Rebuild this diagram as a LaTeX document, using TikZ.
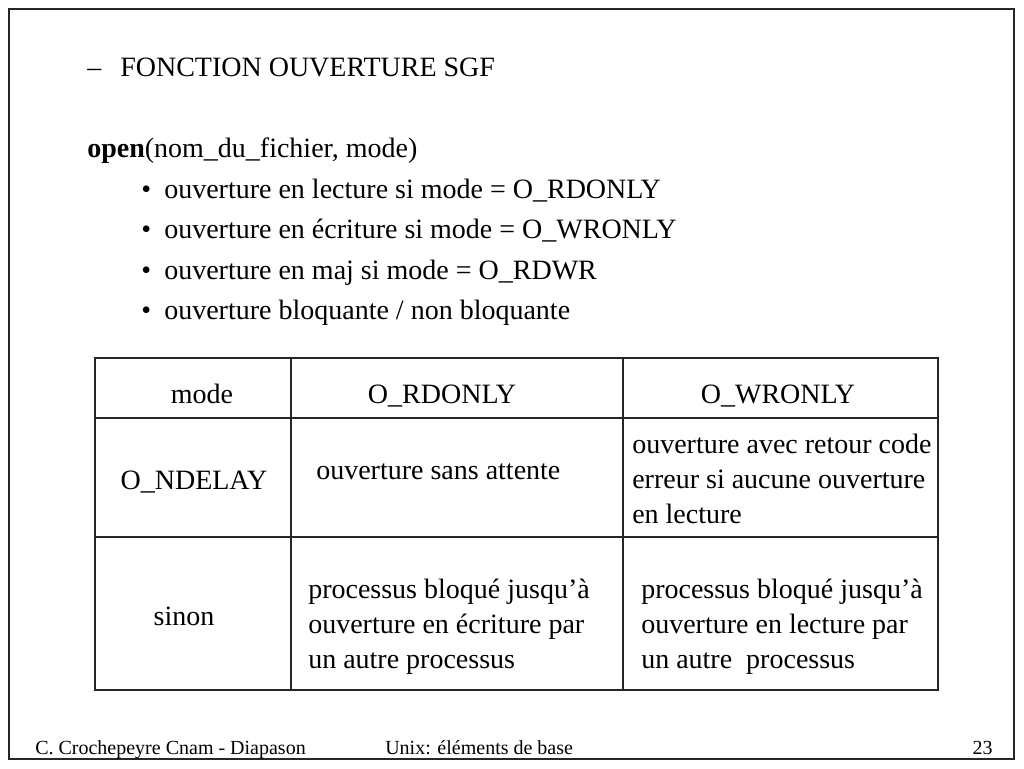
\documentclass[tikz,border=0pt]{standalone}
\usepackage{fontspec}
\setmainfont{Liberation Serif}
\begin{document}
\begin{tikzpicture}[x=0.75pt,y=-0.75pt,
  body/.style={font=\fontsize{21}{25.9}\selectfont, inner sep=0pt, anchor=base west},
  cell/.style={font=\fontsize{21}{25.9}\selectfont, inner sep=0pt, anchor=base west, align=left},
  foot/.style={font=\fontsize{15}{18}\selectfont, inner sep=0pt, anchor=base west},
  frame/.style={draw=black!85, line width=1pt},
  rule/.style={draw=black!85, line width=1.1pt}]
\useasboundingbox (0,0) rectangle (1024,768);
\fill[white] (0,0) rectangle (1024,768);
\draw[frame] (9,9) rectangle (1014,759);

% title and list
\node[body] (dash) at (87,76) {–};
\node[body] (title) at (120,76) {FONCTION OUVERTURE SGF};
\node[body] (open) at (87,157) {\textbf{open}(nom\_du\_fichier, mode)};
\node[body] (b1) at (141,198) {•};
\node[body] (l1) at (164,198) {ouverture en lecture si mode = O\_RDONLY};
\node[body] (b2) at (141,238.5) {•};
\node[body] (l2) at (164,238.5) {ouverture en écriture si mode = O\_WRONLY};
\node[body] (b3) at (141,279) {•};
\node[body] (l3) at (164,279) {ouverture en maj si mode = O\_RDWR};
\node[body] (b4) at (141,319.5) {•};
\node[body] (l4) at (164,319.5) {ouverture bloquante / non bloquante};

% table
\draw[rule] (95,358) rectangle (938,690);
\draw[rule] (291,358) -- (291,690);
\draw[rule] (623,358) -- (623,690);
\draw[rule] (95,418) -- (938,418);
\draw[rule] (95,537) -- (938,537);

\node[body, anchor=base] (hmode) at (202,403) {mode};
\node[body, anchor=base] (hrd) at (442,403) {O\_RDONLY};
\node[body, anchor=base] (hwr) at (778,403) {O\_WRONLY};
\node[body, anchor=base] (ndelay) at (194,489) {O\_NDELAY};
\node[body] (c11) at (316,479) {ouverture sans attente};
\node[cell] (c12) at (632,523) {ouverture avec retour code\\erreur si aucune ouverture\\en lecture};
\node[body, anchor=base] (sinon) at (184,625) {sinon};
\node[cell] (c21) at (308,668) {processus bloqué jusqu’à\\ouverture en écriture par\\un autre processus};
\node[cell] (c22) at (641,668) {processus bloqué jusqu’à\\ouverture en lecture par\\un autre~ processus};

% footer
\node[foot] (f1) at (35,754) {C. Crochepeyre Cnam - Diapason};
\node[foot] (f2) at (385,754) {Unix: éléments de base};
\node[foot, anchor=base east] (f3) at (993,754) {23};
\end{tikzpicture}
\end{document}
